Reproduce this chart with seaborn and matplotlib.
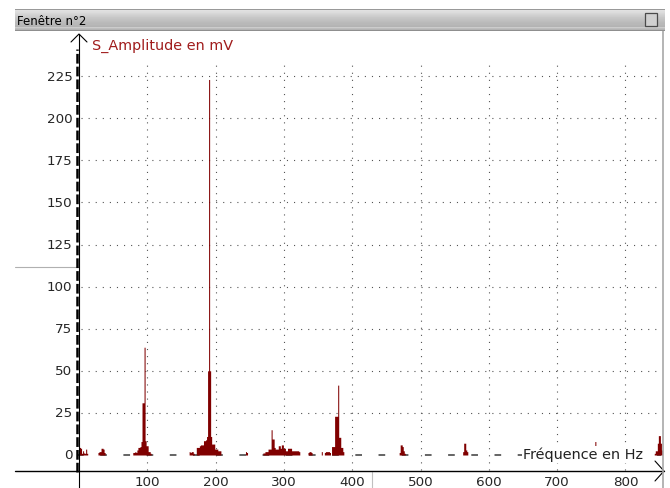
import numpy as np
import pandas as pd
import matplotlib
matplotlib.use("Agg")
import matplotlib.pyplot as plt
import matplotlib.patches as mpatches
import seaborn as sns

# Figure size in pixels and the screen mapping of the plot
W, H = 670, 489
X0, SX = 79.0, 0.683     # pixel column of 0 Hz, pixels per Hz
Y0, SY = 456.0, 1.684    # pixel row of 0 mV, pixels per mV

# Amplitude spectrum (Hz, mV), 1.5 Hz bins
freq_a = [0, 1.5, 3, 4.5, 6, 7.5, 9, 10.5, 12]
amp_a = [6, 4.5, 4, 1, 2.5, 1.2, 1, 3.5, 1]

freq_b = [28.5, 30, 31.5, 33, 34.5, 36, 37.5]
amp_b = [1.5, 2, 2, 4, 4, 3.5, 1.5]

freq_c = [79.5, 81, 82.5, 84, 85.5, 87, 88.5, 90, 91.5, 93, 94.5, 96,
          97.5, 99, 100.5, 102, 103.5, 105]
amp_c = [1.5, 1.5, 2, 1.5, 3, 4.5, 4.5, 5, 8, 31, 31, 64,
         8.5, 5.5, 5.5, 2, 2, 1]

freq_d = [162, 163.5, 165, 166.5, 168, 172.5, 174, 175.5, 177, 178.5, 180,
          181.5, 183, 184.5, 186, 187.5, 189, 190.5, 192, 193.5, 195, 196.5,
          198, 199.5, 201, 202.5, 204, 205.5, 207, 244.5, 246]
amp_d = [2, 1.5, 2, 2, 1, 4.5, 4.5, 4.5, 5.5, 6, 6,
         6, 8.5, 8.5, 9, 11, 50, 223, 50, 11, 6.5, 6.5,
         6.5, 3.5, 3.5, 3.5, 2.5, 2.5, 2.5, 2, 1.5]

freq_e = [270, 271.5, 273, 274.5, 276, 277.5, 279, 280.5, 282, 283.5, 285,
          286.5, 288, 289.5, 291, 292.5, 294, 295.5, 297, 298.5, 300, 301.5,
          303, 304.5, 306, 307.5, 309, 310.5, 312, 313.5, 315, 316.5, 318,
          319.5, 321, 322.5]
amp_e = [1.2, 1.2, 2, 2, 2, 3.5, 3.5, 3.5, 15, 9.5, 9.5,
         4.5, 3.5, 3.5, 3.5, 5.5, 5.5, 4, 6, 6, 4, 4,
         2.5, 2.5, 4, 4, 4, 4, 2.5, 2.5, 2.5, 2.5, 2.5,
         2.5, 2.5, 2]

freq_f = [336, 337.5, 339, 340.5, 355.5, 360, 361.5, 363, 364.5, 366, 367.5,
          370.5, 372, 373.5, 375, 376.5, 378, 379.5, 381, 382.5, 384, 385.5, 387]
amp_f = [1.5, 2, 2, 1.5, 2, 1.5, 2, 2, 2, 2, 1.5,
         5, 5, 5, 23, 23, 23, 41.5, 10.5, 10.5, 4.5, 4.5, 2]

freq_g = [469.5, 471, 472.5, 474, 475.5, 477]
amp_g = [1.5, 6, 6, 5, 2.5, 1]

freq_h = [562.5, 564, 565.5, 567, 568.5]
amp_h = [2, 7, 7, 3, 2]

freq_i = [756]
amp_i = [8]

freq_j = [843, 844.5, 846, 847.5, 849, 850.5, 852, 853.5]
amp_j = [1, 2.5, 2.5, 7, 11.5, 11.5, 7, 3]

y_ticks = [0, 25, 50, 75, 100, 125, 150, 175, 200, 225]
x_ticks = [100, 200, 300, 400, 500, 600, 700, 800]
y_labels = [str(v) for v in y_ticks]
x_labels = [str(v) for v in x_ticks]

BAR_COLOR = "#800000"
# grey levels of the window title bar, top row to bottom row
TITLEBAR_SHADES = [0.60, 0.88, 0.87, 0.86, 0.84, 0.83, 0.81, 0.80, 0.78, 0.77, 0.76,
                   0.75, 0.74, 0.73, 0.72, 0.72, 0.71, 0.70, 0.80, 0.74, 0.70, 0.56]


def hz(px):
    return (px - X0) / SX


def mv(py):
    return (Y0 - py) / SY


sns.set_style("white")
plt.rcParams["lines.scale_dashes"] = False
plt.rcParams["font.family"] = ["DejaVu Sans"]
plt.rcParams["figure.facecolor"] = "white"

fig = plt.figure(figsize=(W / 100, H / 100), dpi=100)
ax = fig.add_axes([0, 0, 1, 1])

# Spectrum
df = pd.DataFrame({
    "freq": freq_a + freq_b + freq_c + freq_d + freq_e + freq_f + freq_g + freq_h + freq_i + freq_j,
    "amp": amp_a + amp_b + amp_c + amp_d + amp_e + amp_f + amp_g + amp_h + amp_i + amp_j,
})
edges = list(np.arange(-0.75, 855, 1.5))
sns.histplot(data=df, x="freq", weights="amp", bins=edges, element="step", fill=True,
             color=BAR_COLOR, alpha=1, linewidth=0, ax=ax, zorder=3)

ax.set_xlim(hz(0), hz(W))
ax.set_ylim(mv(H), mv(0))
ax.axis("off")

# Dotted grid
for v in y_ticks[1:]:
    ax.plot([hz(81), hz(661)], [v, v], color="#555555", lw=0.8,
            ls=(0, (0.8, 4.3)), zorder=1)
for f in x_ticks:
    ax.plot([f, f], [mv(471), mv(62)], color="#555555", lw=0.8,
            ls=(0, (0.8, 4.3)), zorder=1)

# Dashed zero line
ax.plot([hz(76.6), hz(661)], [0, 0], color="#3a3a3a", lw=1.1,
        ls=(0, (4.8, 11.9)), zorder=2)

# Y axis: thick dashed trace plus thin arrowed line
ax.plot([hz(77.3), hz(77.3)], [mv(473), mv(50)], color="black", lw=1.8,
        ls=(0, (7.0, 2.2)), zorder=4)
ax.plot([0, 0], [mv(H), mv(35)], color="black", lw=0.8, zorder=4)
ax.plot([hz(71), 0, hz(87)], [mv(43), mv(35), mv(43)], color="black", lw=0.8, zorder=4)

# X axis with arrow
ax.plot([hz(15), hz(664)], [mv(472), mv(472)], color="black", lw=1.0, zorder=4)
ax.plot([hz(655), hz(664), hz(655)], [mv(462), mv(472), mv(482)], color="black", lw=0.8, zorder=4)

# Tick labels
for v, lab in zip(y_ticks, y_labels):
    ax.text(hz(72.5), v, lab, ha="right", va="center", fontsize=9.7, color="#262626")
for f, lab in zip(x_ticks, x_labels):
    ax.text(f, mv(483), lab, ha="center", va="center", fontsize=9.7, color="#262626")

# Axis titles
ax.text(hz(92), mv(49.5), "S_Amplitude en mV", ha="left", va="baseline",
        fontsize=10.4, color="#a01c1c", zorder=5)
ax.text(hz(523), mv(459.5), "Fréquence en Hz", ha="left", va="baseline",
        fontsize=10.4, color="#222222", zorder=5,
        bbox=dict(boxstyle="square,pad=0.1", facecolor="white", edgecolor="none"))

# Window artefacts: stray lines and right frame
ax.plot([hz(15), hz(78)], [mv(267.5), mv(267.5)], color="#b0b0b0", lw=0.8, zorder=1)
ax.plot([hz(372), hz(372)], [mv(473), mv(H)], color="#c0c0c0", lw=0.8, zorder=1)
ax.plot([hz(662.5), hz(662.5)], [mv(32), mv(H)], color="#a8a8a8", lw=1.2, zorder=6)

# Title bar of the window
tax = fig.add_axes([15 / W, 1 - 32 / H, 650 / W, 22 / H])
grad = np.array(TITLEBAR_SHADES)[:, None] * np.ones((1, 10))
tax.imshow(grad, cmap="gray", vmin=0, vmax=1, aspect="auto",
           extent=[0, 1, 0, 1], interpolation="nearest")
tax.set_xlim(0, 1)
tax.set_ylim(0, 1)
tax.axis("off")
tax.text(2 / 650, 0.47, "Fenêtre n°2", ha="left", va="center", fontsize=8.5,
         color="black")
tax.add_patch(mpatches.Rectangle((630 / 650, 5 / 22), 12 / 650, 13 / 22,
                                 facecolor="#d0d0d0", edgecolor="#4a4a4a", lw=0.9))

fig.savefig("out.png", dpi=100)
